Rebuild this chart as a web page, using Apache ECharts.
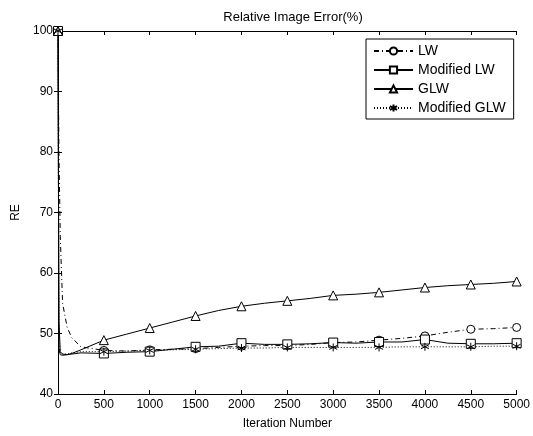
<!DOCTYPE html>
<html>
<head>
<meta charset="utf-8">
<script src="https://cdn.jsdelivr.net/npm/echarts@6/dist/echarts.min.js"></script>
<style>
  html, body { margin: 0; padding: 0; background: #fff; }
  #chart { width: 533px; height: 436px; }
</style>
</head>
<body>
<div id="chart"></div>
<script>
// iteration points shared by all curves
var iterations = [0, 10, 25, 50, 100, 150, 250, 500, 750, 1000, 1250, 1500, 1750, 2000, 2250,
  2500, 2750, 3000, 3250, 3500, 3750, 4000, 4250, 4500, 4750, 5000]

var lw = [100, 80, 66, 55, 51, 49.3, 47.8, 47.2, 47.1, 47.3, 47.4, 47.5, 47.7, 47.9, 48.0,
  48.0, 48.2, 48.5, 48.6, 48.9, 49.2, 49.6, 50.2, 50.7, 50.8, 51.0]
var modLw = [100, 47.5, 46.5, 46.4, 46.5, 46.6, 46.8, 46.7, 46.9, 47.0, 47.4, 47.8, 47.9, 48.4, 48.2,
  48.2, 48.3, 48.5, 48.4, 48.6, 48.6, 49.0, 48.4, 48.3, 48.3, 48.4]
var glw = [100, 52, 47, 46.6, 46.5, 46.7, 47.3, 48.9, 49.9, 50.9, 51.9, 52.9, 53.8, 54.5, 55.0,
  55.4, 55.8, 56.3, 56.5, 56.8, 57.2, 57.6, 57.9, 58.1, 58.3, 58.6]
var modGlw = [100, 48, 46.8, 46.6, 46.6, 46.8, 47.0, 47.0, 47.1, 47.2, 47.3, 47.4, 47.5, 47.6, 47.6,
  47.7, 47.7, 47.7, 47.7, 47.7, 47.8, 47.8, 47.8, 47.8, 47.9, 47.9]

var names = ['LW', 'Modified LW', 'GLW', 'Modified GLW']
var markerStep = 500

function pairs(vals) {
  return iterations.map(function (x, i) { return [x, vals[i]] })
}

var font = 'Arial, "Liberation Sans", sans-serif'
var asterisk = 'path://M0,-5L0,5M-4.3,-2.5L4.3,2.5M-4.3,2.5L4.3,-2.5'

function makeSeries(name, vals, symbol, size, lineType) {
  return {
    name: name,
    type: 'line',
    data: pairs(vals),
    symbol: symbol,
    symbolSize: function (v) { return v[0] % markerStep === 0 ? size : 0 },
    showSymbol: true,
    showAllSymbol: true,
    animation: false,
    itemStyle: { color: '#fff', borderColor: '#000', borderWidth: 1 },
    lineStyle: { color: '#000', width: 1, type: lineType }
  }
}

var tick = { inside: true, length: 4, lineStyle: { color: '#000' } }
var line = { lineStyle: { color: '#000' } }

var chart = echarts.init(document.getElementById('chart'))
chart.setOption({
  backgroundColor: '#fff',
  title: {
    text: 'Relative Image Error(%)',
    left: 288,
    textAlign: 'center',
    top: 6,
    textStyle: { fontFamily: font, fontSize: 13, fontWeight: 'normal', color: '#000' }
  },
  grid: { left: 58, right: 15, top: 31, bottom: 42 },
  legend: {
    data: names,
    orient: 'vertical',
    left: 366,
    top: 39,
    itemWidth: 39,
    itemHeight: 9,
    itemGap: 5,
    padding: [5, 8, 4, 7],
    borderColor: '#000',
    borderWidth: 1,
    backgroundColor: '#fff',
    textStyle: { fontFamily: font, fontSize: 14, color: '#000' }
  },
  xAxis: [{
    type: 'value',
    min: 0,
    max: 5000,
    interval: 500,
    name: 'Iteration Number',
    nameLocation: 'middle',
    nameGap: 24,
    nameTextStyle: { fontFamily: font, fontSize: 12, color: '#000' },
    axisLine: line,
    axisTick: tick,
    axisLabel: { fontFamily: font, fontSize: 12, color: '#000', margin: 5, formatter: function (v) { return String(v) } },
    splitLine: { show: false }
  }, {
    type: 'value',
    position: 'top',
    min: 0,
    max: 5000,
    interval: 500,
    axisLine: line,
    axisTick: tick,
    axisLabel: { show: false },
    splitLine: { show: false }
  }],
  yAxis: [{
    type: 'value',
    min: 40,
    max: 100,
    interval: 10,
    name: 'RE',
    nameLocation: 'middle',
    nameGap: 36,
    nameTextStyle: { fontFamily: font, fontSize: 12, color: '#000' },
    axisLine: line,
    axisTick: tick,
    axisLabel: { fontFamily: font, fontSize: 12, color: '#000', margin: 5 },
    splitLine: { show: false }
  }, {
    type: 'value',
    position: 'right',
    min: 40,
    max: 100,
    interval: 10,
    axisLine: line,
    axisTick: tick,
    axisLabel: { show: false },
    splitLine: { show: false }
  }],
  series: [
    makeSeries(names[0], lw, 'circle', 8, [5, 3, 1, 3]),
    makeSeries(names[1], modLw, 'rect', 9, 'solid'),
    makeSeries(names[2], glw, 'triangle', 9, 'solid'),
    makeSeries(names[3], modGlw, asterisk, 8, [1, 2])
  ]
})
</script>
</body>
</html>
